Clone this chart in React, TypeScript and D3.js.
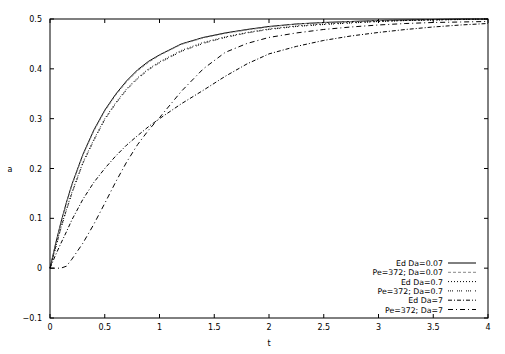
import React from "react";
import * as d3 from "d3";

const xs = [0, 0.05, 0.1, 0.15, 0.2, 0.3, 0.4, 0.5, 0.6, 0.7, 0.8, 0.9, 1, 1.2, 1.4, 1.6, 1.8, 2, 2.25, 2.5, 2.75, 3, 3.25, 3.5, 3.75, 4];

const edDa007 = [0, 0.048, 0.092, 0.132, 0.168, 0.228, 0.277, 0.317, 0.349, 0.376, 0.398, 0.415, 0.428, 0.45, 0.463, 0.472, 0.479, 0.485, 0.49, 0.493, 0.495, 0.497, 0.498, 0.499, 0.5, 0.5];
const peDa007 = [0, 0.046, 0.09, 0.13, 0.166, 0.226, 0.275, 0.315, 0.347, 0.374, 0.396, 0.413, 0.427, 0.449, 0.462, 0.471, 0.478, 0.484, 0.49, 0.493, 0.495, 0.497, 0.498, 0.499, 0.5, 0.5];
const edDa07 = [0, 0.041, 0.082, 0.118, 0.152, 0.212, 0.258, 0.3, 0.332, 0.36, 0.382, 0.4, 0.414, 0.437, 0.453, 0.464, 0.473, 0.48, 0.486, 0.49, 0.493, 0.495, 0.497, 0.498, 0.499, 0.5];
const peDa07 = [0, 0.039, 0.08, 0.116, 0.15, 0.21, 0.256, 0.298, 0.33, 0.358, 0.38, 0.398, 0.412, 0.435, 0.451, 0.463, 0.472, 0.479, 0.485, 0.489, 0.492, 0.495, 0.497, 0.498, 0.499, 0.5];
const edDa7 = [0, 0.026, 0.05, 0.073, 0.097, 0.138, 0.172, 0.2, 0.225, 0.247, 0.266, 0.284, 0.3, 0.33, 0.357, 0.385, 0.41, 0.43, 0.445, 0.457, 0.466, 0.473, 0.479, 0.484, 0.488, 0.491];
const peDa7 = [0, 0, 0, 0.004, 0.018, 0.05, 0.088, 0.13, 0.173, 0.213, 0.248, 0.277, 0.302, 0.355, 0.4, 0.433, 0.451, 0.463, 0.472, 0.479, 0.484, 0.488, 0.491, 0.493, 0.494, 0.495];

const seriesNames = ["Ed Da=0.07", "Pe=372; Da=0.07", "Ed Da=0.7", "Pe=372; Da=0.7", "Ed Da=7", "Pe=372; Da=7"];
const seriesValues = [edDa007, peDa007, edDa07, peDa07, edDa7, peDa7];
const seriesColors = ["#000", "#888", "#000", "#000", "#000", "#000"];
const seriesDash = ["", "3,2", "1,2", "1,1,1,1,1,4", "4,2,1,2", "5,3,1,3"];

const xTicks = [0, 0.5, 1, 1.5, 2, 2.5, 3, 3.5, 4];
const yTicks = [-0.1, 0, 0.1, 0.2, 0.3, 0.4, 0.5];

const W = 505, H = 354;
const L = 50, R = 488, T = 19, B = 318;
const font = "'DejaVu Sans', sans-serif";

export default function App() {
  const x = d3.scaleLinear().domain([0, 4]).range([L, R]);
  const y = d3.scaleLinear().domain([-0.1, 0.5]).range([B, T]);
  const line = d3.line<number>().x((_, i) => x(xs[i])).y((d) => y(d));
  const tl = 4;
  return (
    <svg width={W} height={H} style={{ position: "fixed", left: 0, top: 0, background: "#fff" }} fontFamily={font}>
      <rect x={0} y={0} width={W} height={H} fill="#fff" />
      {seriesValues.map((vals, i) => (
        <path key={i} d={line(vals) || ""} fill="none" stroke={seriesColors[i]} strokeWidth={1} strokeDasharray={seriesDash[i]} />
      ))}
      <rect x={L} y={T} width={R - L} height={B - T} fill="none" stroke="#000" strokeWidth={1} />
      {xTicks.map((t) => (
        <g key={"x" + t}>
          <line x1={x(t)} x2={x(t)} y1={B} y2={B - tl} stroke="#000" />
          <line x1={x(t)} x2={x(t)} y1={T} y2={T + tl} stroke="#000" />
          <text x={x(t)} y={B + 12} fontSize={8} textAnchor="middle">{String(t)}</text>
        </g>
      ))}
      {yTicks.map((t) => (
        <g key={"y" + t}>
          <line x1={L} x2={L + tl} y1={y(t)} y2={y(t)} stroke="#000" />
          <line x1={R} x2={R - tl} y1={y(t)} y2={y(t)} stroke="#000" />
          <text x={L - 8} y={y(t) + 3} fontSize={8} textAnchor="end">{d3.format("")(+t.toFixed(1))}</text>
        </g>
      ))}
      <text x={10} y={172} fontSize={8} textAnchor="middle">a</text>
      <text x={269} y={346} fontSize={8} textAnchor="middle">t</text>
      {seriesNames.map((n, i) => {
        const yy = 263 + i * 9.3;
        return (
          <g key={n}>
            <text x={443} y={yy + 3} fontSize={7.8} textAnchor="end">{n}</text>
            <line x1={448} x2={476} y1={yy} y2={yy} stroke={seriesColors[i]} strokeDasharray={seriesDash[i]} />
          </g>
        );
      })}
    </svg>
  );
}
